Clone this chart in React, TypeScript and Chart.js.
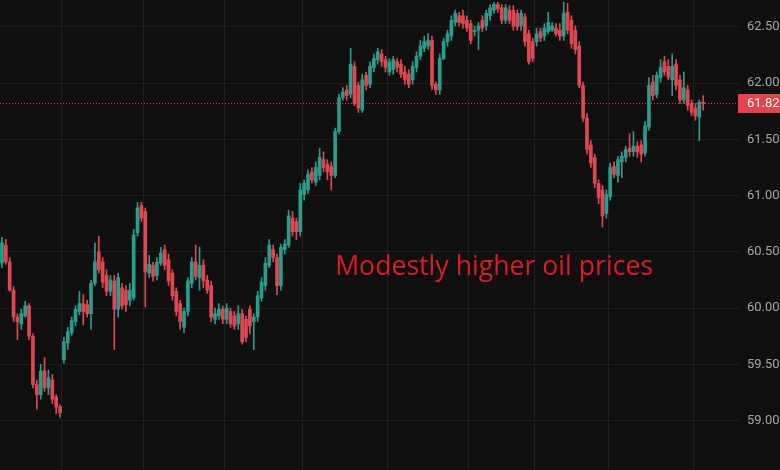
import { useEffect, useRef } from "react";
import { Chart, registerables } from "chart.js";

Chart.register(...registerables);

// ---- data (price, USD) ----
const opens = [
  60.40, 60.56, 60.41, 60.16, 59.92, 59.86, 59.93, 60.02, 59.75, 59.32, 59.23, 59.44, 59.29, 59.36, 59.21, 59.12,
  59.54, 59.69, 59.78, 59.88, 59.97, 60.04, 60.03, 59.95, 60.22, 60.50, 60.41, 60.29, 60.15, 60.24, 59.99, 60.18,
  60.16, 60.07, 60.09, 60.67, 60.91, 60.86, 60.31, 60.38, 60.29, 60.40, 60.52, 60.43, 60.31, 60.15, 60.04, 59.83,
  59.97, 60.22, 60.41, 60.27, 60.38, 60.25, 60.20, 59.90, 59.93, 59.99, 59.90, 59.97, 59.93, 59.86, 59.95, 59.90,
  59.99, 59.88, 59.92, 60.09, 60.20, 60.38, 60.52, 60.45, 60.20, 60.52, 60.56, 60.80, 60.77, 60.68, 61.01, 61.05,
  61.21, 61.12, 61.18, 61.32, 61.28, 61.26, 61.18, 61.57, 61.87, 61.94, 61.90, 62.15, 61.98, 61.76, 62.07, 61.99,
  62.14, 62.21, 62.26, 62.21, 62.10, 62.12, 62.19, 62.17, 62.10, 62.08, 62.03, 62.14, 62.24, 62.31, 62.33, 62.38,
  61.99, 61.94, 62.22, 62.37, 62.42, 62.54, 62.60, 62.60, 62.56, 62.53, 62.46, 62.47, 62.56, 62.51, 62.60, 62.65,
  62.70, 62.67, 62.56, 62.65, 62.65, 62.62, 62.51, 62.59, 62.44, 62.37, 62.37, 62.46, 62.42, 62.46, 62.47, 62.49,
  62.47, 62.42, 62.63, 62.56, 62.47, 62.33, 61.98, 61.69, 61.45, 61.34, 61.11, 61.05, 60.84, 60.99, 61.26, 61.18,
  61.30, 61.34, 61.42, 61.39, 61.44, 61.45, 61.38, 61.61, 62.01, 61.90, 62.05, 62.19, 62.15, 62.03, 62.17, 62.03,
  61.85, 61.94, 61.82, 61.78, 61.70, 61.83,
];
const highs = [
  60.63, 60.61, 60.45, 60.19, 59.95, 59.99, 60.06, 60.04, 59.77, 59.36, 59.50, 59.56, 59.45, 59.41, 59.23, 59.14,
  59.74, 59.83, 59.92, 60.02, 60.15, 60.12, 60.07, 60.25, 60.58, 60.64, 60.45, 60.34, 60.29, 60.29, 60.31, 60.22,
  60.20, 60.22, 60.70, 60.94, 60.94, 60.89, 60.47, 60.41, 60.45, 60.54, 60.56, 60.48, 60.34, 60.18, 60.07, 60.00,
  60.27, 60.45, 60.56, 60.54, 60.43, 60.29, 60.24, 60.00, 60.04, 60.02, 60.04, 60.00, 59.97, 60.02, 59.99, 59.93,
  60.02, 59.95, 60.15, 60.27, 60.45, 60.61, 60.56, 60.48, 60.57, 60.61, 60.87, 60.86, 60.80, 61.11, 61.14, 61.23,
  61.25, 61.30, 61.42, 61.39, 61.32, 61.30, 61.60, 61.90, 61.96, 61.98, 62.31, 62.19, 62.01, 62.08, 62.10, 62.19,
  62.26, 62.31, 62.30, 62.24, 62.22, 62.24, 62.22, 62.21, 62.15, 62.12, 62.19, 62.28, 62.38, 62.42, 62.44, 62.42,
  62.01, 62.26, 62.40, 62.47, 62.60, 62.65, 62.63, 62.65, 62.60, 62.56, 62.51, 62.54, 62.60, 62.65, 62.70, 62.72,
  62.72, 62.70, 62.70, 62.69, 62.69, 62.65, 62.65, 62.62, 62.47, 62.40, 62.49, 62.49, 62.53, 62.63, 62.54, 62.53,
  62.53, 62.72, 62.71, 62.60, 62.51, 62.37, 62.01, 61.73, 61.49, 61.37, 61.14, 61.09, 61.05, 61.29, 61.30, 61.35,
  61.39, 61.44, 61.55, 61.57, 61.48, 61.49, 61.66, 62.05, 62.07, 62.10, 62.21, 62.24, 62.21, 62.26, 62.21, 62.07,
  62.10, 61.98, 61.85, 61.82, 61.85, 61.89,
];
const lows = [
  60.36, 60.39, 60.15, 59.88, 59.72, 59.81, 59.92, 59.72, 59.29, 59.10, 59.19, 59.26, 59.23, 59.15, 59.06, 59.03,
  59.51, 59.63, 59.76, 59.84, 59.94, 59.85, 59.92, 59.81, 60.20, 60.31, 60.18, 60.11, 60.11, 59.63, 59.92, 59.99,
  59.97, 60.02, 60.07, 60.64, 60.77, 60.01, 60.27, 60.24, 60.25, 60.38, 60.34, 60.20, 60.07, 59.93, 59.81, 59.78,
  59.93, 60.18, 60.25, 60.16, 60.18, 60.13, 59.88, 59.86, 59.90, 59.86, 59.86, 59.83, 59.81, 59.81, 59.68, 59.70,
  59.77, 59.63, 59.88, 60.06, 60.16, 60.36, 60.41, 60.12, 60.16, 60.48, 60.54, 60.64, 60.61, 60.64, 60.96, 61.02,
  61.11, 61.09, 61.14, 61.21, 61.14, 61.05, 61.16, 61.55, 61.85, 61.85, 61.87, 61.80, 61.74, 61.74, 61.94, 61.96,
  62.10, 62.17, 62.15, 62.10, 62.07, 62.08, 62.10, 62.05, 61.99, 61.96, 61.99, 62.10, 62.21, 62.28, 62.30, 61.94,
  61.90, 61.90, 62.21, 62.33, 62.38, 62.51, 62.51, 62.49, 62.46, 62.35, 62.42, 62.30, 62.46, 62.47, 62.56, 62.62,
  62.63, 62.53, 62.53, 62.53, 62.47, 62.47, 62.47, 62.33, 62.17, 62.19, 62.33, 62.37, 62.38, 62.44, 62.46, 62.42,
  62.38, 62.38, 62.44, 62.31, 62.26, 61.96, 61.66, 61.37, 61.25, 61.07, 60.93, 60.72, 60.80, 60.96, 61.16, 61.12,
  61.16, 61.30, 61.35, 61.35, 61.34, 61.30, 61.35, 61.58, 61.85, 61.87, 62.01, 62.07, 62.03, 61.89, 61.94, 61.82,
  61.82, 61.76, 61.71, 61.67, 61.49, 61.76,
];
const closes = [
  60.58, 60.41, 60.16, 59.92, 59.88, 59.95, 60.02, 59.75, 59.32, 59.23, 59.44, 59.29, 59.38, 59.19, 59.12, 59.07,
  59.70, 59.79, 59.89, 59.99, 60.04, 59.97, 59.95, 60.22, 60.41, 60.34, 60.23, 60.15, 60.25, 59.99, 60.27, 60.02,
  60.03, 60.16, 60.65, 60.89, 60.80, 60.32, 60.39, 60.28, 60.41, 60.49, 60.38, 60.24, 60.11, 59.97, 59.88, 59.97,
  60.24, 60.41, 60.28, 60.38, 60.24, 60.16, 59.92, 59.95, 59.99, 59.90, 60.00, 59.86, 59.84, 59.95, 59.70, 59.74,
  59.84, 59.92, 60.11, 60.23, 60.40, 60.56, 60.45, 60.20, 60.54, 60.57, 60.82, 60.68, 60.68, 61.05, 61.11, 61.19,
  61.14, 61.25, 61.34, 61.25, 61.21, 61.18, 61.57, 61.87, 61.92, 61.89, 62.17, 61.82, 61.78, 62.03, 61.98, 62.15,
  62.22, 62.28, 62.19, 62.14, 62.19, 62.21, 62.14, 62.08, 62.03, 61.99, 62.15, 62.24, 62.33, 62.37, 62.38, 61.98,
  61.94, 62.22, 62.37, 62.44, 62.56, 62.62, 62.54, 62.53, 62.49, 62.38, 62.47, 62.51, 62.49, 62.62, 62.67, 62.70,
  62.66, 62.56, 62.67, 62.56, 62.51, 62.50, 62.62, 62.37, 62.19, 62.22, 62.44, 62.40, 62.49, 62.54, 62.51, 62.44,
  62.42, 62.62, 62.47, 62.35, 62.30, 61.98, 61.69, 61.41, 61.29, 61.11, 60.98, 60.82, 61.01, 61.25, 61.19, 61.32,
  61.35, 61.41, 61.39, 61.44, 61.39, 61.37, 61.62, 61.98, 61.89, 62.07, 62.14, 62.10, 62.05, 62.15, 61.98, 61.85,
  61.96, 61.80, 61.74, 61.71, 61.83, 61.82,
];
const slotCount = 191; // candle slots on the time axis, incl. empty space on the right
const sessionStartSlots = [16, 37, 58, 78, 100, 121, 138, 157, 179];
const yTickValues = [59.0, 59.5, 60.0, 60.5, 61.0, 61.5, 62.0, 62.5];
const yMin = 58.56;
const yMax = 62.74;
const noteText = "Modestly higher oil prices";
const noteIndex = 86;
const notePrice = 60.29;

const UP = "#2a9d8f";
const DOWN = "#e04850";
const BG = "#0f0f0f";

export default function App() {
  const ref = useRef<HTMLCanvasElement | null>(null);

  useEffect(() => {
    if (!ref.current) return;
    const labels = Array.from({ length: slotCount }, (_, i) => String(i));
    const colors = closes.map((c, i) => (c >= opens[i] ? UP : DOWN));
    const last = closes[closes.length - 1];

    const overlay = {
      id: "overlay",
      beforeDatasetsDraw(chart: any) {
        const { ctx, chartArea, scales } = chart;
        const y = Math.round(scales.y.getPixelForValue(last)) + 0.5;
        ctx.save();
        ctx.strokeStyle = "#d9434b";
        ctx.lineWidth = 1;
        ctx.setLineDash([1, 2]);
        ctx.beginPath();
        ctx.moveTo(chartArea.left, y);
        ctx.lineTo(chartArea.right, y);
        ctx.stroke();
        ctx.restore();
      },
      afterDatasetsDraw(chart: any) {
        const { ctx, scales } = chart;
        ctx.save();
        ctx.font = "100px 'Open Sans'";
        const w100 = ctx.measureText(noteText).width;
        const size = (100 * 318) / w100;
        ctx.font = `${size.toFixed(2)}px 'Open Sans'`;
        ctx.fillStyle = "#dc1c24";
        ctx.textAlign = "left";
        ctx.textBaseline = "alphabetic";
        ctx.fillText(noteText, scales.x.getPixelForValue(noteIndex), scales.y.getPixelForValue(notePrice));
        ctx.restore();
      },
      afterDraw(chart: any) {
        const { ctx, chartArea, scales, width } = chart;
        const y = scales.y.getPixelForValue(last);
        ctx.save();
        ctx.fillStyle = "#e5444c";
        ctx.fillRect(chartArea.right - 2, Math.round(y) - 9, width - chartArea.right + 2, 19);
        ctx.fillStyle = "#ffffff";
        ctx.font = "13px Roboto";
        ctx.textAlign = "left";
        ctx.textBaseline = "middle";
        ctx.fillText(last.toFixed(3), chartArea.right + 7, Math.round(y) + 1);
        ctx.restore();
      },
    };

    const chart = new Chart(ref.current, {
      type: "bar",
      data: {
        labels,
        datasets: [
          {
            label: "wick",
            data: highs.map((h, i) => [lows[i], h]) as any,
            backgroundColor: colors,
            barThickness: 1,
            grouped: false,
            order: 2,
          } as any,
          {
            label: "body",
            data: closes.map((c, i) => [opens[i], c]) as any,
            backgroundColor: colors,
            barThickness: 3,
            minBarLength: 1,
            grouped: false,
            order: 1,
          } as any,
        ],
      },
      options: {
        animation: false,
        responsive: false,
        layout: { padding: 0 },
        plugins: { legend: { display: false }, tooltip: { enabled: false } },
        scales: {
          x: {
            type: "category",
            offset: true,
            border: { display: false },
            ticks: { display: false, autoSkip: false, padding: 0 },
            afterFit: (s: any) => {
              s.height = 0;
              s.paddingLeft = 0;
              s.paddingRight = 0;
            },
            grid: {
              offset: true,
              drawTicks: false,
              color: (c: any) => (sessionStartSlots.includes(c.index) ? "#1f1f1f" : "rgba(0,0,0,0)"),
            },
          },
          y: {
            position: "right",
            min: yMin,
            max: yMax,
            border: { display: false },
            afterFit: (s: any) => {
              s.width = 60;
              s.paddingTop = 0;
              s.paddingBottom = 0;
            },
            afterBuildTicks: (s: any) => {
              s.ticks = yTickValues.map((v) => ({ value: v }));
            },
            ticks: {
              padding: 7,
              color: "#a6a6a6",
              font: { family: "Roboto", size: 13 },
              callback: (v: any) => Number(v).toFixed(3),
            },
            grid: { drawTicks: false, color: "#1c1c1c" },
          },
        },
      },
      plugins: [overlay],
    });
    return () => chart.destroy();
  }, []);

  return (
    <div
      style={{
        position: "fixed",
        left: 0,
        top: 0,
        width: 780,
        height: 470,
        overflow: "hidden",
        background: BG,
      }}
    >
      <canvas ref={ref} width={800} height={470} style={{ width: 800, height: 470, display: "block" }} />
    </div>
  );
}
